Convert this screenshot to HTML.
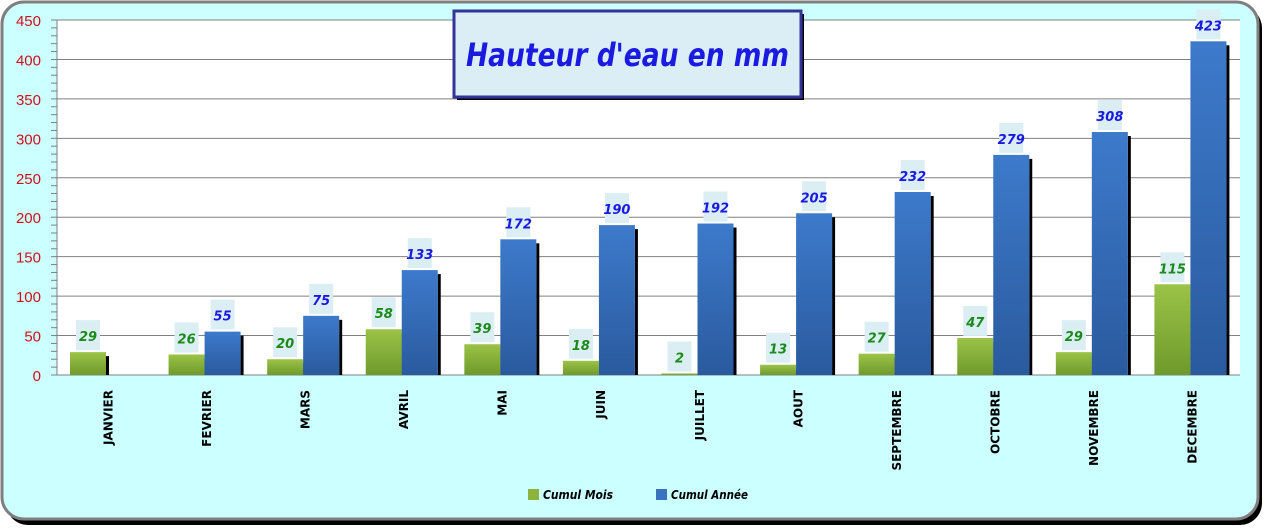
<!DOCTYPE html>
<html><head><meta charset="utf-8">
<style>
html,body{margin:0;padding:0;width:1267px;height:528px;overflow:hidden;background:#fff;}
svg{display:block;font-family:"DejaVu Sans","Liberation Sans",sans-serif;}
</style></head><body>
<svg id="s" width="1267" height="528" xmlns="http://www.w3.org/2000/svg">
<defs>
<linearGradient id="g" x1="0" y1="0" x2="0" y2="1"><stop offset="0" stop-color="#9bc347"/><stop offset="1" stop-color="#6e9a2c"/></linearGradient>
<linearGradient id="b" x1="0" y1="0" x2="0" y2="1"><stop offset="0" stop-color="#3d7acb"/><stop offset="1" stop-color="#2a5a9e"/></linearGradient>
</defs>
<rect x="6" y="6" width="1256" height="519" rx="22" fill="#000"/>
<rect x="2" y="2" width="1256" height="517" rx="22" fill="#ccffff" stroke="#7f7f7f" stroke-width="3"/>
<rect x="57" y="20" width="1183" height="355" fill="#fff"/>
<g id="grid"></g>
<g id="bars"></g>
<rect x="457" y="14" width="347" height="86" fill="#000"/>
<rect x="454" y="11" width="347" height="86" fill="#dbeef6" stroke="#333399" stroke-width="3"/>
<text x="466" y="66" textLength="323" lengthAdjust="spacingAndGlyphs" font-size="32" font-weight="bold" font-style="oblique" fill="#1a1ae0">Hauteur d'eau en mm</text>
<rect x="528" y="489" width="11" height="11" fill="#8db33c"/>
<text x="543" y="499" font-size="12" textLength="70" lengthAdjust="spacingAndGlyphs" font-weight="bold" font-style="oblique" fill="#000">Cumul Mois</text>
<rect x="656" y="489" width="11" height="11" fill="#3a72bf"/>
<text x="671" y="499" font-size="12" textLength="77" lengthAdjust="spacingAndGlyphs" font-weight="bold" font-style="oblique" fill="#000">Cumul Année</text>
</svg>
<script>
var ns="http://www.w3.org/2000/svg";
function el(p,t,a,txt){var e=document.createElementNS(ns,t);for(var k in a)e.setAttribute(k,a[k]);if(txt!==undefined)e.textContent=txt;p.appendChild(e);return e;}
var grid=document.getElementById('grid'),bars=document.getElementById('bars');
var y0=375,k=355/450,L=57,R=1240;
for(var v=0;v<=450;v+=10){var y=y0-v*k;el(grid,'line',{x1:51,x2:57,y1:y,y2:y,stroke:'#7f7f7f','stroke-width':1});}
for(var v=50;v<=450;v+=50){var y=y0-v*k;el(grid,'line',{x1:57,x2:R,y1:y,y2:y,stroke:'#808080','stroke-width':1});}
for(var v=0;v<=450;v+=50){el(grid,'text',{x:41,y:y0-v*k+6,'text-anchor':'end','font-size':15,fill:'#d0101c','font-family':'Liberation Sans'},v);}
el(grid,'line',{x1:57,x2:57,y1:20,y2:375,stroke:'#7f7f7f'});
el(grid,'line',{x1:57,x2:R,y1:375,y2:375,stroke:'#7f7f7f'});
var m=[29,26,20,58,39,18,2,13,27,47,29,115],c=[null,55,75,133,172,190,192,205,232,279,308,423];
var names=['JANVIER','FEVRIER','MARS','AVRIL','MAI','JUIN','JUILLET','AOUT','SEPTEMBRE','OCTOBRE','NOVEMBRE','DECEMBRE'];
var w=(R-L)/12;
function bar(x,v,f,col){var h=v*k,t=y0-h;
 el(bars,'rect',{x:x+36,y:t+4,width:3,height:h-4>0?h-4:0,fill:'#000'});
 el(bars,'rect',{x:x,y:t,width:36,height:h,fill:f});
 el(bars,'rect',{x:x+6,y:t-32,width:24,height:30,fill:'#dbeef4'});
 el(bars,'text',{x:x+18,y:t-11,'text-anchor':'middle','font-size':13,'font-weight':'bold','font-style':'oblique',fill:col},v);}
for(var i=0;i<12;i++){var x=L+i*w;
 bar(x+13,m[i],'url(#g)','#1a8a1a');
 if(c[i]!==null)bar(x+49,c[i],'url(#b)','#1a1ae0');
 var cx=x+w/2+1;
 el(bars,'text',{x:0,y:0,transform:'translate('+(cx+5)+',390) rotate(-90)','text-anchor':'end','font-size':12,'font-weight':'bold',fill:'#000'},names[i]);}
</script>
</body></html>
